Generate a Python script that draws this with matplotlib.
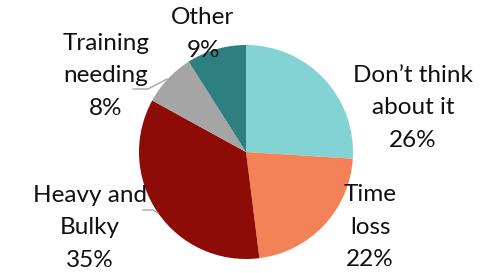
import matplotlib
matplotlib.use("Agg")
import matplotlib.pyplot as plt

labels = ["Don\u2019t think\nabout it", "Time\nloss", "Heavy and\nBulky", "Training\nneeding", "Other"]
values = [26, 22, 35, 8, 9]
colors = ["#83D3D4", "#F38357", "#8E0C07", "#A5A5A5", "#2E7F80"]

# label anchor points in pixel space (y from top)
label_pos = [(413, 108), (370, 227), (90, 228), (106, 76), (203, 34)]

W, H = 492, 273
fig = plt.figure(figsize=(W / 100, H / 100), dpi=100)
ax = fig.add_axes([0, 0, 1, 1])

ax.pie(values, colors=colors, startangle=90, counterclock=False,
       center=(246, H - 152), radius=107, frame=True)
ax.set_xlim(0, W)
ax.set_ylim(0, H)
ax.axis("off")

# leader lines
ax.plot([133, 148, 167], [H - 89, H - 89, H - 79], color="#A5A5A5", lw=1)
ax.plot([143, 153, 158], [H - 210, H - 210, H - 213], color="#A5A5A5", lw=1)

for lab, v, (x, y) in zip(labels, values, label_pos):
    ax.text(x, H - y, f"{lab}\n{v}%", ha="center", va="center",
            fontsize=17.5, family="Lato", linespacing=1.68, color="#111111")

fig.savefig("out.png", dpi=100)
